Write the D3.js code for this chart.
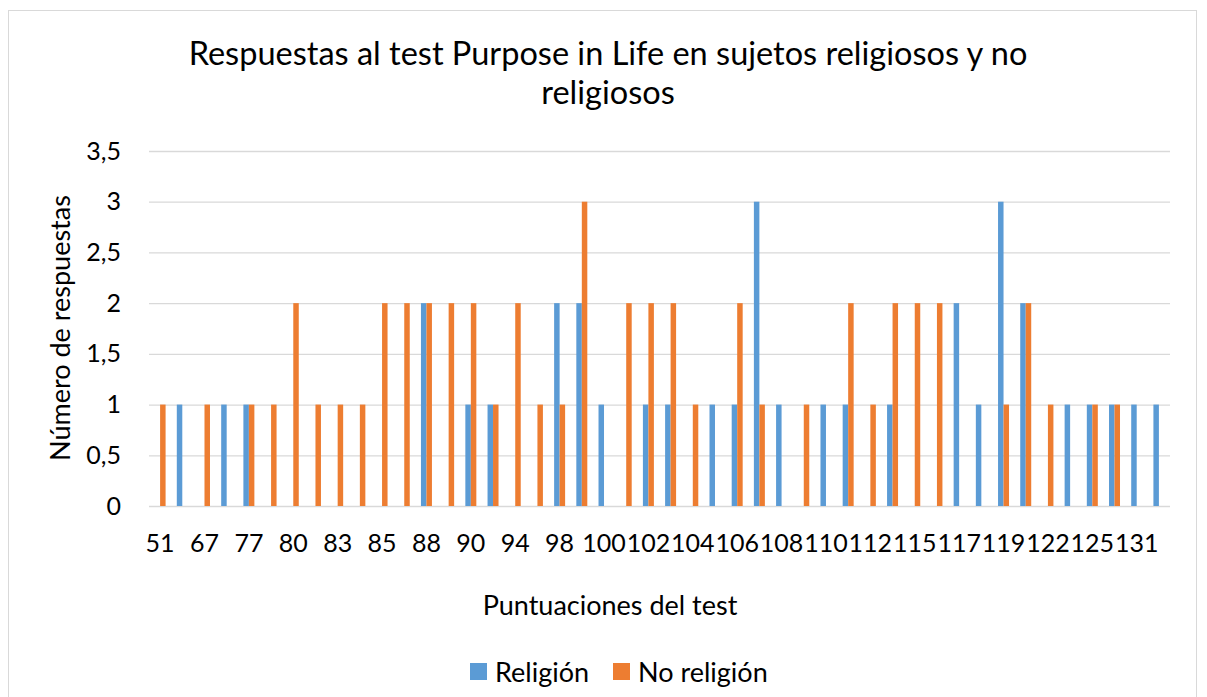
<!DOCTYPE html>
<html>
<head>
<meta charset="utf-8">
<script src="https://cdn.jsdelivr.net/npm/d3@7"></script>
<style>
  body { margin: 0; background: #fff; }
  text { font-family: Lato, "Noto Sans", sans-serif; fill: #000; }
</style>
</head>
<body>
<script>
// test scores (categories), every other one is labelled on the axis
const scores = [51, 63, 67, 72, 77, 79, 80, 81, 83, 84, 85, 87, 88, 89, 90, 92,
  94, 96, 98, 99, 100, 101, 102, 103, 104, 105, 106, 107, 108, 109, 110, 111,
  112, 113, 115, 116, 117, 118, 119, 120, 122, 124, 125, 127, 131, 134];
// number of answers per score
const religion = [0, 1, 0, 1, 1, 0, 0, 0, 0, 0, 0, 0, 2, 0, 1, 1, 0, 0, 2, 2, 1, 0,
  1, 1, 0, 1, 1, 3, 1, 0, 1, 1, 0, 1, 0, 0, 2, 1, 3, 2, 0, 1, 1, 1, 1, 1];
const noReligion = [1, 0, 1, 0, 1, 1, 2, 1, 1, 1, 2, 2, 2, 2, 2, 1, 2, 1, 1, 3, 0, 2,
  2, 2, 1, 0, 2, 1, 0, 1, 0, 2, 1, 2, 2, 2, 0, 0, 1, 2, 1, 0, 1, 1, 0, 0];
const seriesNames = ["Religión", "No religión"];
const yTicks = [0, 0.5, 1, 1.5, 2, 2.5, 3, 3.5];

const colors = ["#5B9BD5", "#ED7D31"];
const W = 1207, H = 697;
const margin = {top: 151, right: 37, bottom: 191, left: 149};
const width = W - margin.left - margin.right,
      height = H - margin.top - margin.bottom;

const svg = d3.select("body").append("svg")
  .attr("width", W).attr("height", H);

// chart border
svg.append("rect")
  .attr("x", 8.5).attr("y", 10.5)
  .attr("width", 1188).attr("height", 700)
  .attr("fill", "#fff").attr("stroke", "#d9d9d9");

// title
const title = svg.append("text")
  .attr("text-anchor", "middle")
  .style("font-size", "32.5px");
title.append("tspan").attr("x", 608).attr("y", 65)
  .text("Respuestas al test Purpose in Life en sujetos religiosos y no");
title.append("tspan").attr("x", 608).attr("y", 104)
  .text("religiosos");

const g = svg.append("g")
  .attr("transform", "translate(" + margin.left + "," + margin.top + ")");

const cats = scores.map(String);
const x0 = d3.scaleBand()
  .domain(cats)
  .range([0, width])
  .paddingInner(0.505)
  .paddingOuter(0.2525);
const x1 = d3.scaleBand()
  .domain(seriesNames)
  .range([0, x0.bandwidth()]);
const y = d3.scaleLinear()
  .domain([0, 3.5])
  .range([height, 0]);

// gridlines
g.append("g")
  .call(d3.axisLeft(y).tickValues(yTicks).tickSize(-width).tickFormat(""))
  .call(a => a.select(".domain").remove())
  .call(a => a.selectAll("line").attr("stroke", "#d9d9d9").attr("stroke-width", 1.3));

// y axis labels
g.append("g")
  .attr("transform", "translate(-28,0)")
  .call(d3.axisLeft(y).tickValues(yTicks).tickSize(0).tickPadding(0)
    .tickFormat(d => String(d).replace(".", ",")))
  .call(a => a.select(".domain").remove())
  .call(a => a.selectAll("text").style("font-size", "25px").attr("font-family", null));

// x axis labels (every second category)
g.append("g")
  .attr("transform", "translate(0," + height + ")")
  .call(d3.axisBottom(x0).tickValues(cats.filter((d, i) => i % 2 === 0))
    .tickSize(0).tickPadding(28))
  .call(a => a.select(".domain").remove())
  .call(a => a.selectAll("text").style("font-size", "25px").attr("font-family", null));

// bars
const rows = scores.map((s, i) => ({
  cat: String(s),
  values: [
    {name: seriesNames[0], value: religion[i]},
    {name: seriesNames[1], value: noReligion[i]}
  ]
}));

g.append("g").selectAll("g")
  .data(rows)
  .join("g")
    .attr("transform", d => "translate(" + x0(d.cat) + ",0)")
  .selectAll("rect")
  .data(d => d.values.filter(v => v.value > 0))
  .join("rect")
    .attr("x", d => x1(d.name))
    .attr("width", x1.bandwidth())
    .attr("y", d => y(d.value))
    .attr("height", d => y(0) - y(d.value))
    .attr("fill", d => colors[seriesNames.indexOf(d.name)]);

// axis titles
svg.append("text")
  .attr("text-anchor", "middle")
  .attr("x", 610).attr("y", 615)
  .style("font-size", "27px")
  .text("Puntuaciones del test");

svg.append("text")
  .attr("text-anchor", "middle")
  .attr("transform", "translate(70,328) rotate(-90)")
  .style("font-size", "27px")
  .text("Número de respuestas");

// legend
const legendX = [470, 613];
const legend = svg.append("g");
seriesNames.forEach((name, i) => {
  legend.append("rect")
    .attr("x", legendX[i]).attr("y", 663)
    .attr("width", 17).attr("height", 17)
    .attr("fill", colors[i]);
  legend.append("text")
    .attr("x", legendX[i] + 25).attr("y", 682)
    .style("font-size", "27px")
    .text(name);
});
</script>
</body>
</html>
